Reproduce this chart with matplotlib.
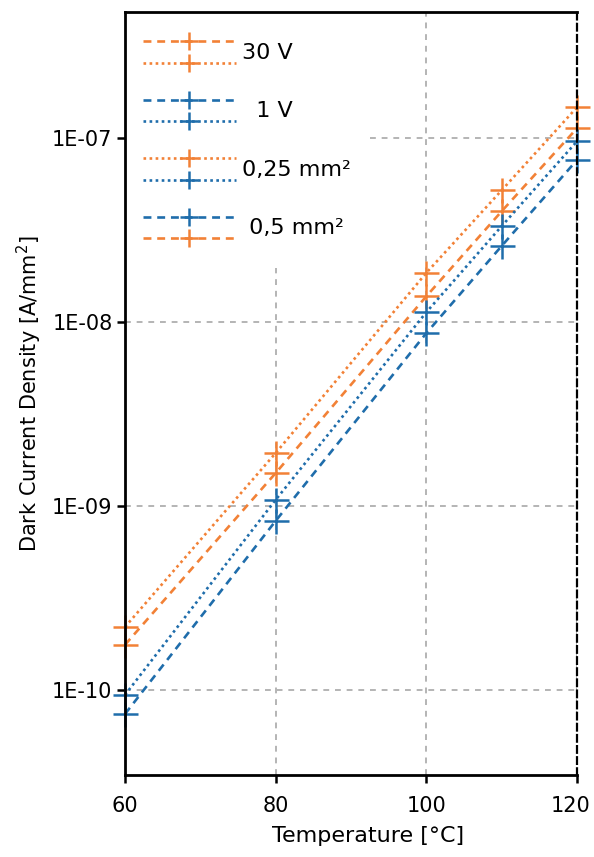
import matplotlib
matplotlib.use("Agg")
import matplotlib.pyplot as plt
from matplotlib.legend_handler import HandlerBase
from matplotlib.lines import Line2D
from matplotlib.ticker import FixedLocator, NullLocator
from matplotlib.transforms import ScaledTranslation

plt.rcParams["font.family"] = ["DejaVu Sans"]

temperature = [60, 80, 100, 110, 120]

# dark current density [A/mm^2]
j_30v_025 = [2.2e-10, 1.94e-9, 1.85e-8, 5.2e-8, 1.47e-7]
j_30v_05 = [1.76e-10, 1.51e-9, 1.38e-8, 4.0e-8, 1.13e-7]
j_1v_025 = [0.94e-10, 1.08e-9, 1.13e-8, 3.32e-8, 9.6e-8]
j_1v_05 = [0.74e-10, 0.83e-9, 0.87e-8, 2.59e-8, 7.6e-8]

y_ticks = [1e-10, 1e-9, 1e-8, 1e-7]
y_tick_labels = ["1E-10", "1E-09", "1E-08", "1E-07"]
x_ticks = [60, 80, 100, 120]

legend_labels = ["30 V", "  1 V", "0,25 mm²", " 0,5 mm²"]

ORANGE = "#f28136"
BLUE = "#1f6dab"
DOTTED = (0, (1, 1.3))
DASHED = (0, (3.0, 2.2))
GRID = "#b4b4b4"


class PairHandler(HandlerBase):
    """Two lines stacked vertically in one legend entry."""

    def create_artists(self, legend, orig_handle, xdescent, ydescent,
                       width, height, fontsize, trans):
        artists = []
        for line, frac in zip(orig_handle, [0.74, 0.26]):
            y = -ydescent + height * frac
            x0, x1 = -xdescent, width - xdescent
            seg = Line2D([x0, x1], [y, y])
            seg.update_from(line)
            seg.set_marker("None")
            seg.set_transform(trans)
            mk = Line2D([(x0 + x1) / 2], [y], color=line.get_color(),
                        marker="+", markersize=13, markeredgewidth=1.8,
                        linestyle="None", transform=trans)
            artists.extend([seg, mk])
        return artists


fig = plt.figure(figsize=(5.94, 8.57), dpi=100)
ax = fig.add_axes([0.2104, 0.0957, 0.761, 0.8903])

style = dict(marker="+", markersize=18, markeredgewidth=1.8,
             linewidth=1.9, clip_on=False, zorder=3)
l_o_dot, = ax.plot(temperature, j_30v_025, color=ORANGE, linestyle=DOTTED, **style)
l_o_dash, = ax.plot(temperature, j_30v_05, color=ORANGE, linestyle=DASHED, **style)
l_b_dot, = ax.plot(temperature, j_1v_025, color=BLUE, linestyle=DOTTED, **style)
l_b_dash, = ax.plot(temperature, j_1v_05, color=BLUE, linestyle=DASHED, **style)

ax.set_yscale("log")
ax.set_xlim(60, 120)
ax.set_ylim(10 ** -10.462, 10 ** -6.315)
ax.yaxis.set_major_locator(FixedLocator(y_ticks))
ax.yaxis.set_minor_locator(NullLocator())
ax.set_yticks(y_ticks, y_tick_labels)
ax.set_xticks(x_ticks)
ax.tick_params(axis="both", length=6, width=1.8, direction="out")
ax.tick_params(axis="x", pad=9, labelsize=15)
ax.tick_params(axis="y", pad=3, labelsize=15)

# last x label sits a bit left of its tick, as in the original
last = ax.get_xticklabels()[-1]
last.set_transform(last.get_transform()
                   + ScaledTranslation(-6 / 100, 0, fig.dpi_scale_trans))

ax.grid(True, color=GRID, linestyle=(0, (3, 3)), linewidth=1.4, zorder=0)
ax.set_axisbelow(True)

for side in ["left", "bottom", "top"]:
    ax.spines[side].set_linewidth(2)
ax.spines["right"].set_linewidth(1.6)
ax.spines["right"].set_linestyle((0, (3, 2)))
for sp in ax.spines.values():
    sp.set_zorder(6)

ax.set_xlabel("Temperature [°C]", fontsize=16, labelpad=7, x=0.538)
ax.set_ylabel("Dark Current Density [A/mm$^2$]", fontsize=15, labelpad=6)

handles = [(l_o_dash, l_o_dot), (l_b_dash, l_b_dot),
           (l_o_dot, l_b_dot), (l_b_dash, l_o_dash)]
leg = ax.legend(handles, legend_labels, handler_map={tuple: PairHandler()},
                loc="upper left", borderaxespad=0.0, borderpad=0.8,
                handlelength=4.2, handleheight=2.74, handletextpad=0.27,
                labelspacing=0.6, fontsize=16, frameon=True,
                fancybox=False, framealpha=1.0, edgecolor="none")
leg.set_zorder(5)

fig.savefig("out.png", dpi=100)
